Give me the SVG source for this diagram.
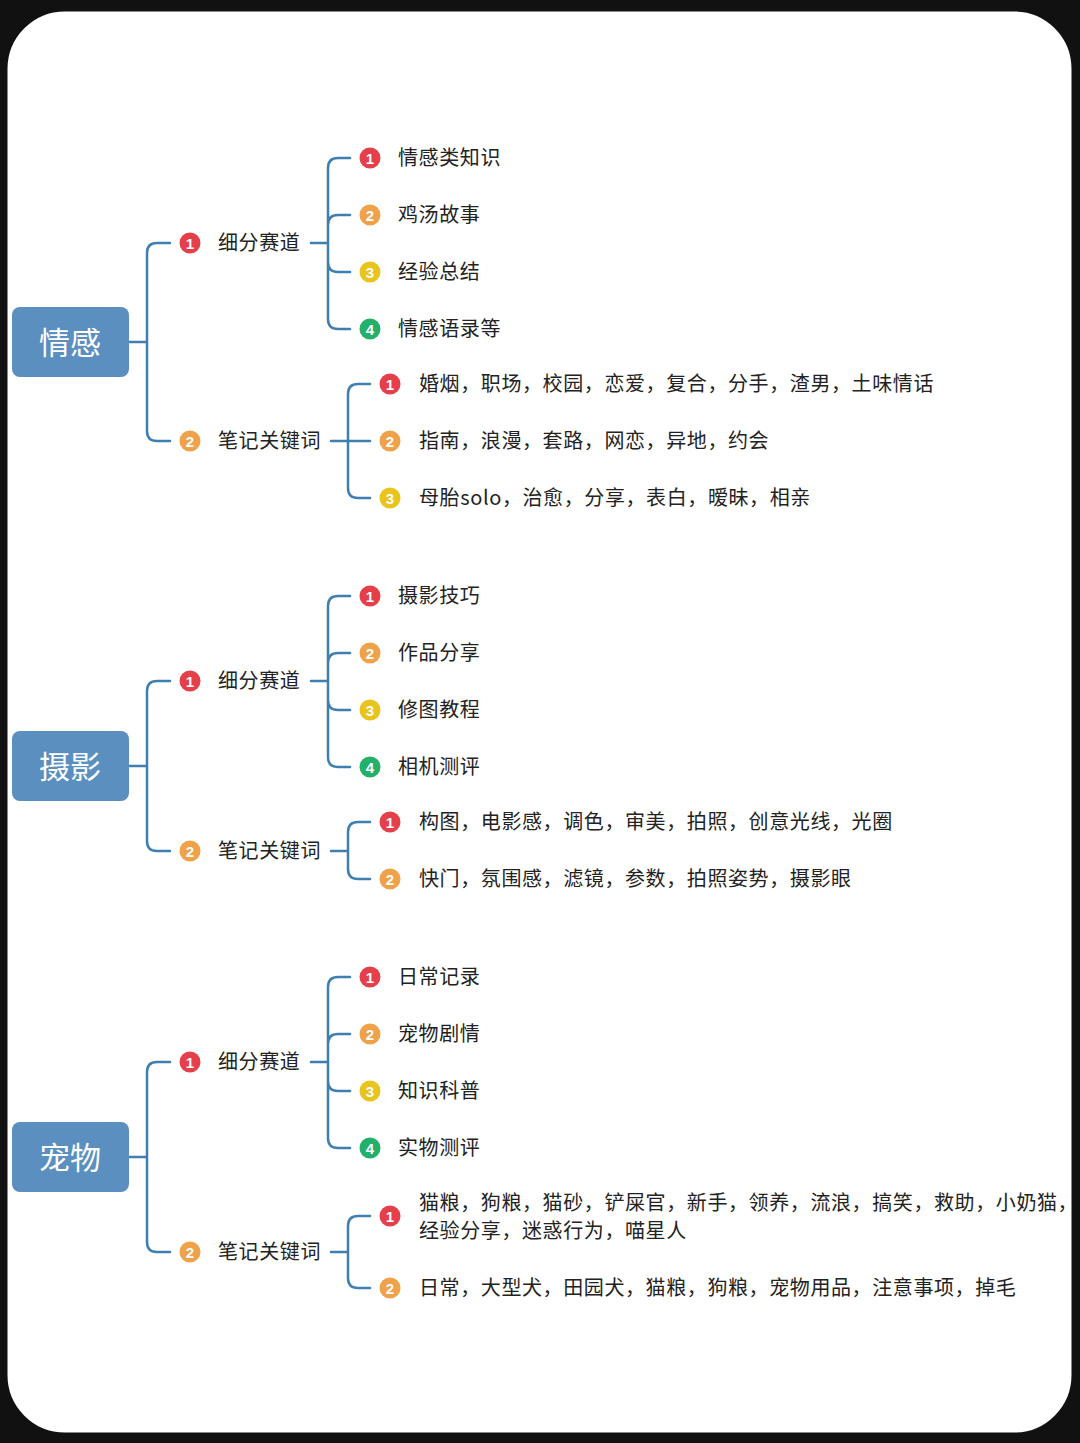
<svg xmlns="http://www.w3.org/2000/svg" width="1080" height="1443" viewBox="0 0 1080 1443">
<style>
.c{fill:none;stroke:#3f7fb0;stroke-width:2.5;stroke-linecap:round}
.root rect{fill:#5a8fbf}
.root text{fill:#fff;font-size:31px;font-family:"Noto Sans CJK SC",sans-serif;text-anchor:middle}
.t{font-family:"Noto Sans CJK SC",sans-serif;font-size:20px;fill:#222;letter-spacing:0.6px}
.b text{font-family:"Liberation Sans",sans-serif;font-weight:bold;font-size:15px;fill:#fff;text-anchor:middle}
.r{fill:#e5404a}.o{fill:#f0a24a}.y{fill:#e9c41c}.g{fill:#22b06b}
</style>
<rect x="0" y="0" width="1080" height="1443" fill="#111"/>
<rect x="5" y="9" width="1069" height="1426" rx="60" fill="#fff" stroke="#111" stroke-width="5"/>
<g id="connectors">
<path class="c" d="M129 342H147M147 342V253Q147 243 157 243H170M147 342V431Q147 441 157 441H170"/>
<path class="c" d="M311 243H328M328 243V168Q328 158 338 158H350M328 243V225Q328 215 338 215H350M328 243V262Q328 272 338 272H350M328 243V319Q328 329 338 329H350"/>
<path class="c" d="M331 441H370M348 441V394Q348 384 358 384H370M348 441V488Q348 498 358 498H370"/>
<path class="c" d="M129 766H147M147 766V691Q147 681 157 681H170M147 766V841Q147 851 157 851H170"/>
<path class="c" d="M311 681H328M328 681V606Q328 596 338 596H350M328 681V663Q328 653 338 653H350M328 681V700Q328 710 338 710H350M328 681V757Q328 767 338 767H350"/>
<path class="c" d="M331 851H348M348 851V832Q348 822 358 822H370M348 851V869Q348 879 358 879H370"/>
<path class="c" d="M129 1157H147M147 1157V1072Q147 1062 157 1062H170M147 1157V1242Q147 1252 157 1252H170"/>
<path class="c" d="M311 1062H328M328 1062V987Q328 977 338 977H350M328 1062V1044Q328 1034 338 1034H350M328 1062V1081Q328 1091 338 1091H350M328 1062V1138Q328 1148 338 1148H350"/>
<path class="c" d="M331 1252H348M348 1252V1226Q348 1216 358 1216H370M348 1252V1278Q348 1288 358 1288H370"/>
</g>
<g id="root1" class="root"><rect x="12" y="307" width="117" height="70" rx="8"/><text x="70" y="354">情感</text></g>
<g id="root2" class="root"><rect x="12" y="731" width="117" height="70" rx="8"/><text x="70" y="778">摄影</text></g>
<g id="root3" class="root"><rect x="12" y="1122" width="117" height="70" rx="8"/><text x="70" y="1169">宠物</text></g>

<g id="n1a" class="b"><circle class="r" cx="190" cy="243" r="10.5"/><text x="190" y="248.5">1</text></g><text class="t" x="218" y="250">细分赛道</text>
<g id="n1b" class="b"><circle class="o" cx="190" cy="441" r="10.5"/><text x="190" y="446.5">2</text></g><text class="t" x="218" y="448">笔记关键词</text>
<g id="n1a1" class="b"><circle class="r" cx="370" cy="158" r="10.5"/><text x="370" y="163.5">1</text></g><text class="t" x="398" y="165">情感类知识</text>
<g id="n1a2" class="b"><circle class="o" cx="370" cy="215" r="10.5"/><text x="370" y="220.5">2</text></g><text class="t" x="398" y="222">鸡汤故事</text>
<g id="n1a3" class="b"><circle class="y" cx="370" cy="272" r="10.5"/><text x="370" y="277.5">3</text></g><text class="t" x="398" y="279">经验总结</text>
<g id="n1a4" class="b"><circle class="g" cx="370" cy="329" r="10.5"/><text x="370" y="334.5">4</text></g><text class="t" x="398" y="336">情感语录等</text>
<g id="n1b1" class="b"><circle class="r" cx="390" cy="384" r="10.5"/><text x="390" y="389.5">1</text></g><text class="t" x="419" y="391">婚烟，职场，校园，恋爱，复合，分手，渣男，土味情话</text>
<g id="n1b2" class="b"><circle class="o" cx="390" cy="441" r="10.5"/><text x="390" y="446.5">2</text></g><text class="t" x="419" y="448">指南，浪漫，套路，网恋，异地，约会</text>
<g id="n1b3" class="b"><circle class="y" cx="390" cy="498" r="10.5"/><text x="390" y="503.5">3</text></g><text class="t" x="419" y="505">母胎solo，治愈，分享，表白，暧昧，相亲</text>

<g id="n2a" class="b"><circle class="r" cx="190" cy="681" r="10.5"/><text x="190" y="686.5">1</text></g><text class="t" x="218" y="688">细分赛道</text>
<g id="n2b" class="b"><circle class="o" cx="190" cy="851" r="10.5"/><text x="190" y="856.5">2</text></g><text class="t" x="218" y="858">笔记关键词</text>
<g id="n2a1" class="b"><circle class="r" cx="370" cy="596" r="10.5"/><text x="370" y="601.5">1</text></g><text class="t" x="398" y="603">摄影技巧</text>
<g id="n2a2" class="b"><circle class="o" cx="370" cy="653" r="10.5"/><text x="370" y="658.5">2</text></g><text class="t" x="398" y="660">作品分享</text>
<g id="n2a3" class="b"><circle class="y" cx="370" cy="710" r="10.5"/><text x="370" y="715.5">3</text></g><text class="t" x="398" y="717">修图教程</text>
<g id="n2a4" class="b"><circle class="g" cx="370" cy="767" r="10.5"/><text x="370" y="772.5">4</text></g><text class="t" x="398" y="774">相机测评</text>
<g id="n2b1" class="b"><circle class="r" cx="390" cy="822" r="10.5"/><text x="390" y="827.5">1</text></g><text class="t" x="419" y="829">构图，电影感，调色，审美，拍照，创意光线，光圈</text>
<g id="n2b2" class="b"><circle class="o" cx="390" cy="879" r="10.5"/><text x="390" y="884.5">2</text></g><text class="t" x="419" y="886">快门，氛围感，滤镜，参数，拍照姿势，摄影眼</text>

<g id="n3a" class="b"><circle class="r" cx="190" cy="1062" r="10.5"/><text x="190" y="1067.5">1</text></g><text class="t" x="218" y="1069">细分赛道</text>
<g id="n3b" class="b"><circle class="o" cx="190" cy="1252" r="10.5"/><text x="190" y="1257.5">2</text></g><text class="t" x="218" y="1259">笔记关键词</text>
<g id="n3a1" class="b"><circle class="r" cx="370" cy="977" r="10.5"/><text x="370" y="982.5">1</text></g><text class="t" x="398" y="984">日常记录</text>
<g id="n3a2" class="b"><circle class="o" cx="370" cy="1034" r="10.5"/><text x="370" y="1039.5">2</text></g><text class="t" x="398" y="1041">宠物剧情</text>
<g id="n3a3" class="b"><circle class="y" cx="370" cy="1091" r="10.5"/><text x="370" y="1096.5">3</text></g><text class="t" x="398" y="1098">知识科普</text>
<g id="n3a4" class="b"><circle class="g" cx="370" cy="1148" r="10.5"/><text x="370" y="1153.5">4</text></g><text class="t" x="398" y="1155">实物测评</text>
<g id="n3b1" class="b"><circle class="r" cx="390" cy="1216" r="10.5"/><text x="390" y="1221.5">1</text></g><text class="t" x="419" y="1210">猫粮，狗粮，猫砂，铲屎官，新手，领养，流浪，搞笑，救助，小奶猫，</text><text class="t" x="419" y="1238">经验分享，迷惑行为，喵星人</text>
<g id="n3b2" class="b"><circle class="o" cx="390" cy="1288" r="10.5"/><text x="390" y="1293.5">2</text></g><text class="t" x="419" y="1295">日常，大型犬，田园犬，猫粮，狗粮，宠物用品，注意事项，掉毛</text>
</svg>
